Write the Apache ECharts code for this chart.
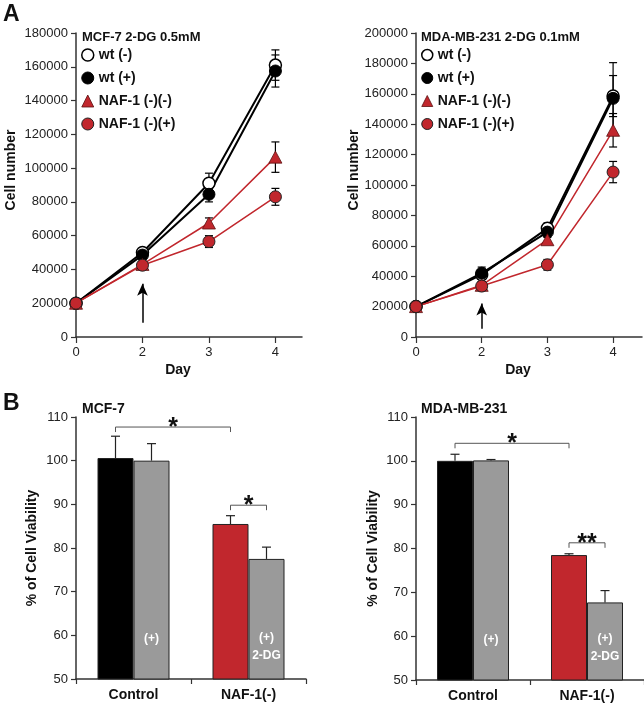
<!DOCTYPE html>
<html>
<head>
<meta charset="utf-8">
<script src="https://cdn.jsdelivr.net/npm/echarts@6/dist/echarts.min.js"></script>
<style>html,body{margin:0;padding:0;background:#fff;}#c{width:644px;height:704px;}</style>
</head>
<body>
<div id="c"></div>
<script>
// ---------- data ----------
const days = ['0', '2', '3', '4'];
const seriesNames = ['wt (-)', 'wt (+)', 'NAF-1 (-)(-)', 'NAF-1 (-)(+)'];

// MCF-7 growth (cell number) and SEM
const mcfWtMinus = [20000, 50000, 91000, 161000];
const mcfWtMinusErr = [1000, 2500, 6000, 9000];
const mcfWtPlus = [20000, 48500, 84500, 157500];
const mcfWtPlusErr = [1000, 2000, 4500, 9500];
const mcfNafMinus = [20000, 43000, 67500, 106500];
const mcfNafMinusErr = [1000, 2000, 3000, 9000];
const mcfNafPlus = [20000, 42500, 56500, 83000];
const mcfNafPlusErr = [1000, 2000, 3500, 5000];
const mcfArrow = [1, 8500, 31500];

// MDA-MB-231 growth
const mdaWtMinus = [20000, 41000, 71500, 158500];
const mdaWtMinusErr = [1000, 3000, 3500, 13500];
const mdaWtPlus = [20000, 42000, 69000, 157000];
const mdaWtPlusErr = [1000, 4000, 3500, 23500];
const mdaNafMinus = [20000, 34000, 64000, 136000];
const mdaNafMinusErr = [1000, 2500, 3000, 11000];
const mdaNafPlus = [20000, 33500, 47500, 108500];
const mdaNafPlusErr = [1000, 3000, 3500, 7000];
const mdaArrow = [1, 5500, 22000];

// Viability bars
const barCategories = ['Control', 'NAF-1(-)'];
const mcfUntreated = [100.6, 85.5];
const mcfUntreatedErr = [5.0, 1.9];
const mcfTreated = [100, 77.5];
const mcfTreatedErr = [3.9, 2.7];
const mdaUntreated = [100, 78.5];
const mdaUntreatedErr = [1.5, 0.3];
const mdaTreated = [100.1, 67.7];
const mdaTreatedErr = [0.2, 2.7];
const treatedLabels = ['(+)', '(+)\n2-DG'];

// significance brackets: [fromCat, fromBar, toCat, toBar, level]
const mcfBrackets = [[0, 0, 1, 0, 107.7], [1, 0, 1, 1, 89.8]];
const mcfBracketMarks = ['*', '*'];
const mdaBrackets = [[0, 0, 1, 0, 104], [1, 0, 1, 1, 81.3]];
const mdaBracketMarks = ['*', '**'];

// ---------- styles ----------
const FONT = '"Liberation Sans", Arial, sans-serif';
const RED = '#c1272d';
const GRAY = '#9a9a9a';
const AXIS = '#333';
const BARW = 36;

const chart = echarts.init(document.getElementById('c'), null, {renderer: 'canvas'});

function pts(arr) { return arr.map((v, i) => [i, v]); }
function errRows(vals, errs) { return vals.map((v, i) => [i, v, errs[i]]); }

function lineErrSeries(rows, axis) {
  return {
    type: 'custom', xAxisIndex: axis, yAxisIndex: axis, z: 1, silent: true,
    encode: {x: 0, y: 1},
    data: rows,
    renderItem: function (params, api) {
      const x = api.value(0), y = api.value(1), e = api.value(2);
      const lo = api.coord([x, y - e]), hi = api.coord([x, y + e]);
      const st = {stroke: '#000', lineWidth: 1.2};
      return {type: 'group', children: [
        {type: 'line', shape: {x1: lo[0], y1: lo[1], x2: hi[0], y2: hi[1]}, style: st},
        {type: 'line', shape: {x1: lo[0] - 4, y1: lo[1], x2: lo[0] + 4, y2: lo[1]}, style: st},
        {type: 'line', shape: {x1: hi[0] - 4, y1: hi[1], x2: hi[0] + 4, y2: hi[1]}, style: st}
      ]};
    }
  };
}

const seriesStyles = [
  {symbol: 'circle', size: 12, color: '#fff', border: '#000', bw: 1.5, line: '#000', lw: 2},
  {symbol: 'circle', size: 12, color: '#000', border: '#000', bw: 1, line: '#000', lw: 2},
  {symbol: 'triangle', size: [13, 12], color: RED, border: '#5a1010', bw: 0.8, line: RED, lw: 1.5},
  {symbol: 'circle', size: 12, color: RED, border: '#222', bw: 1, line: RED, lw: 1.5}
];

function lineSeries(idx, vals, axis, arrow) {
  const s = seriesStyles[idx];
  const o = {
    name: seriesNames[idx], type: 'line', xAxisIndex: axis, yAxisIndex: axis, z: 2,
    data: pts(vals), symbol: s.symbol, symbolSize: s.size, showAllSymbol: true,
    lineStyle: {color: s.line, width: s.lw},
    itemStyle: {color: s.color, borderColor: s.border, borderWidth: s.bw},
    emphasis: {disabled: true}
  };
  if (arrow) {
    o.markLine = {
      silent: true, symbol: ['none', 'arrow'], symbolSize: [8, 12],
      lineStyle: {color: '#000', width: 1.5, type: 'solid'}, label: {show: false},
      data: [[{coord: [arrow[0], arrow[1]]}, {coord: [arrow[0], arrow[2]]}]]
    };
  }
  return o;
}

function barErrSeries(vals, errs, axis, offset) {
  return {
    type: 'custom', xAxisIndex: axis, yAxisIndex: axis, z: 3, silent: true,
    encode: {x: 0, y: 1},
    data: errRows(vals, errs),
    renderItem: function (params, api) {
      const c = api.value(0), v = api.value(1), e = api.value(2);
      const p = api.coord([c, v]), h = api.coord([c, v + e]);
      const x = p[0] + offset;
      const st = {stroke: '#222', lineWidth: 1.2};
      return {type: 'group', children: [
        {type: 'line', shape: {x1: x, y1: p[1], x2: x, y2: h[1]}, style: st},
        {type: 'line', shape: {x1: x - 4.5, y1: h[1], x2: x + 4.5, y2: h[1]}, style: st}
      ]};
    }
  };
}

function bracketSeries(rows, marks, axis) {
  return {
    type: 'custom', xAxisIndex: axis, yAxisIndex: axis, z: 4, silent: true,
    encode: {x: 0, y: 4},
    data: rows,
    renderItem: function (params, api) {
      const off = b => (b === 0 ? -BARW / 2 : BARW / 2);
      const lv = api.value(4);
      const a = api.coord([api.value(0), lv]);
      const b = api.coord([api.value(2), lv]);
      const x1 = a[0] + off(api.value(1)), x2 = b[0] + off(api.value(3)), y = a[1];
      return {type: 'group', children: [
        {type: 'polyline', shape: {points: [[x1, y + 5], [x1, y], [x2, y], [x2, y + 5]]},
          style: {stroke: '#555', lineWidth: 1, fill: null}},
        {type: 'text', x: (x1 + x2) / 2, y: y + 1,
          style: {text: marks[params.dataIndex], fill: '#111', font: 'bold 25px ' + FONT,
            align: 'center', verticalAlign: 'middle'}}
      ]};
    }
  };
}

function treatedData(vals) {
  return vals.map((v, i) => ({
    value: v,
    label: {show: true, position: 'insideBottom', formatter: treatedLabels[i],
      distance: i === 0 ? 32 : 15, color: '#fff', fontWeight: 'bold', fontSize: 12,
      lineHeight: 18, fontFamily: FONT}
  }));
}

function untreatedData(vals) {
  return vals.map((v, i) => ({value: v, itemStyle: {color: i === 0 ? '#000' : RED}}));
}

const axisLineStyle = {show: true, lineStyle: {color: AXIS, width: 1.5}};
const tickLabel = {color: '#222', fontSize: 13, fontFamily: FONT};
const nameStyleBold = {color: '#111', fontSize: 14, fontWeight: 'bold', fontFamily: FONT};

function growthY(max, gridIdx) {
  return {
    type: 'value', gridIndex: gridIdx, min: 0, max: max, interval: 20000,
    axisLine: axisLineStyle, axisTick: {show: true, length: 5, lineStyle: {color: AXIS, width: 1.2}},
    axisLabel: Object.assign({margin: 8, formatter: v => String(v)}, tickLabel), splitLine: {show: false},
    name: 'Cell number', nameLocation: 'middle', nameGap: gridIdx === 0 ? 58 : 55,
    nameTextStyle: Object.assign({padding: [0, 0, 0, 30]}, nameStyleBold)
  };
}

function growthX(max, gridIdx) {
  return {
    type: 'value', gridIndex: gridIdx, min: 0, max: max, interval: 1,
    axisLine: axisLineStyle,
    axisTick: {show: true, length: 6, customValues: [0, 1, 2, 3], lineStyle: {color: AXIS, width: 1.2}},
    axisLabel: Object.assign({margin: 9, customValues: [0, 1, 2, 3],
      formatter: v => (Number.isInteger(v) && days[v] !== undefined ? days[v] : '')}, tickLabel),
    splitLine: {show: false},
    name: 'Day', nameLocation: 'middle', nameGap: 26,
    nameTextStyle: Object.assign({padding: [0, 22, 0, 0]}, nameStyleBold)
  };
}

function barX(gridIdx) {
  return {
    type: 'category', gridIndex: gridIdx, data: barCategories,
    axisLine: axisLineStyle,
    axisTick: {show: true, length: 5, interval: 0, lineStyle: {color: AXIS, width: 1.2}},
    axisLabel: {margin: 9, color: '#111', fontSize: 14, fontWeight: 'bold', fontFamily: FONT}
  };
}

function barY(gridIdx) {
  return {
    type: 'value', gridIndex: gridIdx, min: 50, max: 110, interval: 10,
    axisLine: axisLineStyle, axisTick: {show: true, length: 5, lineStyle: {color: AXIS, width: 1.2}},
    axisLabel: Object.assign({margin: 8}, tickLabel), splitLine: {show: false},
    name: '% of Cell Viability', nameLocation: 'middle', nameGap: gridIdx === 2 ? 37 : 36,
    nameTextStyle: nameStyleBold
  };
}

function legendCfg(left, size) {
  return {
    orient: 'vertical', left: left, top: 48, padding: 0, itemWidth: size, itemHeight: size, itemGap: 9,
    selectedMode: false,
    textStyle: {color: '#111', fontSize: 14, fontWeight: 'bold', fontFamily: FONT, lineHeight: 14},
    data: seriesNames.map((n, i) => ({
      name: n, icon: seriesStyles[i].symbol,
      itemStyle: {color: seriesStyles[i].color, borderColor: seriesStyles[i].border, borderWidth: seriesStyles[i].bw}
    }))
  };
}

const titleBase = {padding: 0, textStyle: {color: '#111', fontWeight: 'bold', fontFamily: FONT, fontSize: 13}};

const option = {
  animation: false,
  backgroundColor: '#fff',
  textStyle: {fontFamily: FONT},
  title: [
    {text: 'A', left: 3, top: 3, padding: 0, textStyle: {fontSize: 23, fontWeight: 'bold', color: '#111', fontFamily: FONT}},
    {text: 'B', left: 3, top: 392, padding: 0, textStyle: {fontSize: 23, fontWeight: 'bold', color: '#111', fontFamily: FONT}},
    Object.assign({text: 'MCF-7 2-DG 0.5mM', left: 82, top: 31}, titleBase),
    Object.assign({text: 'MDA-MB-231 2-DG 0.1mM', left: 421, top: 31}, titleBase),
    {text: 'MCF-7', left: 82, top: 402, padding: 0, textStyle: {color: '#111', fontWeight: 'bold', fontFamily: FONT, fontSize: 14}},
    {text: 'MDA-MB-231', left: 421, top: 402, padding: 0, textStyle: {color: '#111', fontWeight: 'bold', fontFamily: FONT, fontSize: 14}}
  ],
  legend: [legendCfg(81, 12), legendCfg(421, 11)],
  grid: [
    {left: 76, top: 33, width: 226, height: 304},
    {left: 416, top: 33, width: 226, height: 304},
    {left: 76, top: 417, width: 230, height: 262},
    {left: 416, top: 417, width: 228, height: 263}
  ],
  xAxis: [growthX(3.4, 0), growthX(3.44, 1), barX(2), barX(3)],
  yAxis: [growthY(180000, 0), growthY(200000, 1), barY(2), barY(3)],
  series: [
    // MCF-7 growth
    lineErrSeries(errRows(mcfWtMinus, mcfWtMinusErr), 0),
    lineErrSeries(errRows(mcfWtPlus, mcfWtPlusErr), 0),
    lineErrSeries(errRows(mcfNafMinus, mcfNafMinusErr), 0),
    lineErrSeries(errRows(mcfNafPlus, mcfNafPlusErr), 0),
    lineSeries(0, mcfWtMinus, 0, mcfArrow),
    lineSeries(1, mcfWtPlus, 0),
    lineSeries(2, mcfNafMinus, 0),
    lineSeries(3, mcfNafPlus, 0),
    // MDA growth
    lineErrSeries(errRows(mdaWtMinus, mdaWtMinusErr), 1),
    lineErrSeries(errRows(mdaWtPlus, mdaWtPlusErr), 1),
    lineErrSeries(errRows(mdaNafMinus, mdaNafMinusErr), 1),
    lineErrSeries(errRows(mdaNafPlus, mdaNafPlusErr), 1),
    lineSeries(0, mdaWtMinus, 1, mdaArrow),
    lineSeries(1, mdaWtPlus, 1),
    lineSeries(2, mdaNafMinus, 1),
    lineSeries(3, mdaNafPlus, 1),
    // MCF bars
    {type: 'bar', name: 'MCF untreated', xAxisIndex: 2, yAxisIndex: 2, barWidth: BARW, barGap: '0%',
      data: untreatedData(mcfUntreated), itemStyle: {borderColor: '#222', borderWidth: 1}, emphasis: {disabled: true}},
    {type: 'bar', name: 'MCF 2-DG', xAxisIndex: 2, yAxisIndex: 2, barWidth: BARW, barGap: '0%',
      data: treatedData(mcfTreated), itemStyle: {color: GRAY, borderColor: '#222', borderWidth: 1}, emphasis: {disabled: true}},
    barErrSeries(mcfUntreated, mcfUntreatedErr, 2, -BARW / 2),
    barErrSeries(mcfTreated, mcfTreatedErr, 2, BARW / 2),
    bracketSeries(mcfBrackets, mcfBracketMarks, 2),
    // MDA bars
    {type: 'bar', name: 'MDA untreated', xAxisIndex: 3, yAxisIndex: 3, barWidth: BARW, barGap: '0%',
      data: untreatedData(mdaUntreated), itemStyle: {borderColor: '#222', borderWidth: 1}, emphasis: {disabled: true}},
    {type: 'bar', name: 'MDA 2-DG', xAxisIndex: 3, yAxisIndex: 3, barWidth: BARW, barGap: '0%',
      data: treatedData(mdaTreated), itemStyle: {color: GRAY, borderColor: '#222', borderWidth: 1}, emphasis: {disabled: true}},
    barErrSeries(mdaUntreated, mdaUntreatedErr, 3, -BARW / 2),
    barErrSeries(mdaTreated, mdaTreatedErr, 3, BARW / 2),
    bracketSeries(mdaBrackets, mdaBracketMarks, 3)
  ]
};
chart.setOption(option);
</script>
</body>
</html>
